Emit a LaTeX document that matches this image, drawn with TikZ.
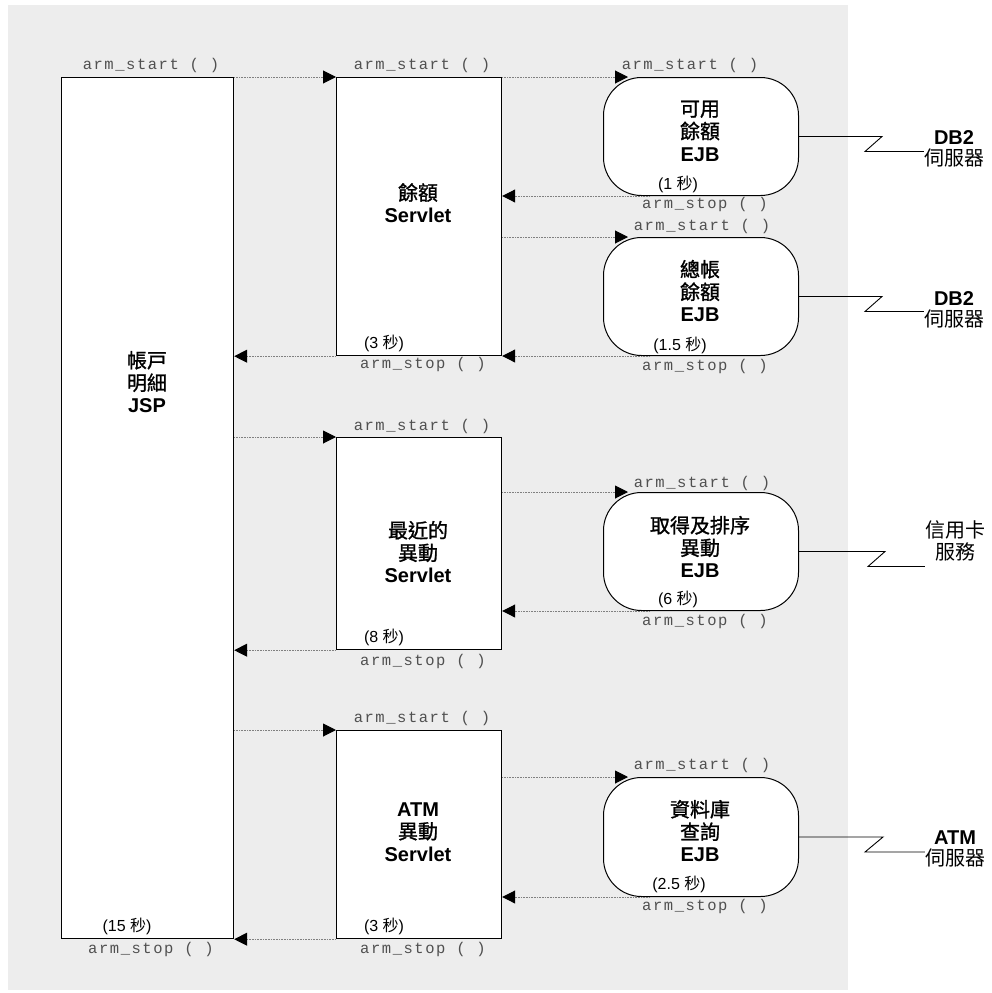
\documentclass[tikz,border=0pt]{standalone}
\usepackage{fontspec}
\setmainfont{Liberation Sans}
\newfontfamily\cjk[AutoFakeBold=1.2]{Noto Sans CJK TC}
\newfontfamily\armfont[LetterSpace=10]{Liberation Mono}
\usetikzlibrary{arrows.meta,calc}
\definecolor{bggray}{HTML}{EDEDED}
\definecolor{armgray}{HTML}{505050}
\newcommand\zh[1]{{\cjk #1}}
\tikzset{
 comp/.style={draw=black, line width=1.2pt, fill=white, anchor=north west, inner sep=0},
 ejb/.style={comp, rounded corners=38pt, line width=1pt},
 lbl/.style={align=center, font=\fontsize{20}{22.5}\selectfont\bfseries, inner sep=0},
 srv/.style={align=center, font=\fontsize{20}{21.5}\selectfont, inner sep=0},
 arm/.style={font=\armfont\fontsize{15.5}{16}\selectfont, text=armgray, inner sep=0},
 sec/.style={font=\fontsize{16}{18}\selectfont, inner sep=0},
 call/.style={draw=gray, line width=1pt, dash pattern=on 1pt off 0.6pt, -{Triangle[length=13pt,width=13pt,black]}},
 zig/.style={draw=black, line width=0.9pt},
}
\begin{document}
\begin{tikzpicture}[x=1pt,y=-1pt]
\useasboundingbox (0,0) rectangle (992,993);
\fill[bggray] (8,5) rectangle (848,990);
% components
\node[comp, minimum width=172pt, minimum height=861pt] (jsp) at (61,77) {};
\node[comp, minimum width=165pt, minimum height=278pt] (s1) at (336,77) {};
\node[comp, minimum width=165pt, minimum height=212pt] (s2) at (336,437) {};
\node[comp, minimum width=165pt, minimum height=208pt] (s3) at (336,730) {};
\node[ejb, minimum width=195pt, minimum height=118pt] (e1) at (603,77) {};
\node[ejb, minimum width=195pt, minimum height=118pt] (e2) at (603,237) {};
\node[ejb, minimum width=195pt, minimum height=118pt] (e3) at (603,492) {};
\node[ejb, minimum width=195pt, minimum height=119pt] (e4) at (603,777) {};
% component labels
\node[lbl] (jspl) at (147,382) {\zh{帳戸}\\\zh{明細}\\JSP};
\node[lbl] (s1l) at (418,203) {\zh{餘額}\\Servlet};
\node[lbl] (s2l) at (418,552) {\zh{最近的}\\\zh{異動}\\Servlet};
\node[lbl] (s3l) at (418,832) {ATM\\\zh{異動}\\Servlet};
\node[lbl] (e1l) at (700,131) {\zh{可用}\\\zh{餘額}\\EJB};
\node[lbl] (e2l) at (700,291) {\zh{總帳}\\\zh{餘額}\\EJB};
\node[lbl] (e3l) at (700,547) {\zh{取得及排序}\\\zh{異動}\\EJB};
\node[lbl] (e4l) at (700,831) {\zh{資料庫}\\\zh{查詢}\\EJB};
% servers
\node[srv] (db1) at (954,149) {\textbf{DB2}\\\zh{伺服器}};
\node[srv] (db2) at (954,310) {\textbf{DB2}\\\zh{伺服器}};
\node[srv] (cc) at (955,541) {\zh{信用卡}\\\zh{服務}};
\node[srv] (atm) at (955,849) {\textbf{ATM}\\\zh{伺服器}};
\draw[zig] (e1.east) -- ++(83,0) -- ++(-17,15) coordinate (z1) -- (z1 -| db1.west);
\draw[zig] (e2.east) -- ++(83,0) -- ++(-17,15) coordinate (z2) -- (z2 -| db2.west);
\draw[zig] (e3.east) -- ++(86,0) -- ++(-17,15) coordinate (z3) -- (z3 -| cc.west);
\draw[zig] (e4.east) -- ++(84,0) -- ++(-18,15) coordinate (z4) -- (z4 -| atm.west);
% calls
\draw[call] (jsp.north east) -- (s1.north west);
\draw[call] (s1.north east) -- ($(e1.north west)+(25,0)$);
\draw[call] ($(e1.south west)+(47,0)$) -- (e1.south west -| s1.east);
\draw[call] (e2.north west -| s1.east) -- ($(e2.north west)+(25,0)$);
\draw[call] ($(e2.south west)+(47,0)$) -- (e2.south west -| s1.east);
\draw[call] (s1.south west) -- (s1.south west -| jsp.east);
\draw[call] (s2.north west -| jsp.east) -- (s2.north west);
\draw[call] (e3.north west -| s2.east) -- ($(e3.north west)+(25,0)$);
\draw[call] ($(e3.south west)+(47,0)$) -- (e3.south west -| s2.east);
\draw[call] (s2.south west) -- (s2.south west -| jsp.east);
\draw[call] (s3.north west -| jsp.east) -- (s3.north west);
\draw[call] (e4.north west -| s3.east) -- ($(e4.north west)+(25,0)$);
\draw[call] ($(e4.south west)+(47,0)$) -- (e4.south west -| s3.east);
\draw[call] (s3.south west) -- (s3.south west -| jsp.east);
% arm labels
\node[arm] (a1) at (151,65) {arm\_start ( )};
\node[arm] (a2) at (422,65) {arm\_start ( )};
\node[arm] (a3) at (690,65) {arm\_start ( )};
\node[arm] (a4) at (705,204) {arm\_stop ( )};
\node[arm] (a5) at (702,226) {arm\_start ( )};
\node[arm] (a6) at (705,366) {arm\_stop ( )};
\node[arm] (a7) at (423,364) {arm\_stop ( )};
\node[arm] (a8) at (422,426) {arm\_start ( )};
\node[arm] (a9) at (702,483) {arm\_start ( )};
\node[arm] (a10) at (705,621) {arm\_stop ( )};
\node[arm] (a11) at (423,661) {arm\_stop ( )};
\node[arm] (a12) at (422,718) {arm\_start ( )};
\node[arm] (a13) at (702,765) {arm\_start ( )};
\node[arm] (a14) at (705,906) {arm\_stop ( )};
\node[arm] (a15) at (423,949) {arm\_stop ( )};
\node[arm] (a16) at (151,949) {arm\_stop ( )};
% times
\node[sec] (t1) at (678,184) {(1 \zh{秒})};
\node[sec] (t2) at (680,345) {(1.5 \zh{秒})};
\node[sec] (t3) at (384,343) {(3 \zh{秒})};
\node[sec] (t4) at (678,599) {(6 \zh{秒})};
\node[sec] (t5) at (384,637) {(8 \zh{秒})};
\node[sec] (t6) at (679,884) {(2.5 \zh{秒})};
\node[sec] (t7) at (384,926) {(3 \zh{秒})};
\node[sec] (t8) at (127,926) {(15 \zh{秒})};
\end{tikzpicture}
\end{document}
